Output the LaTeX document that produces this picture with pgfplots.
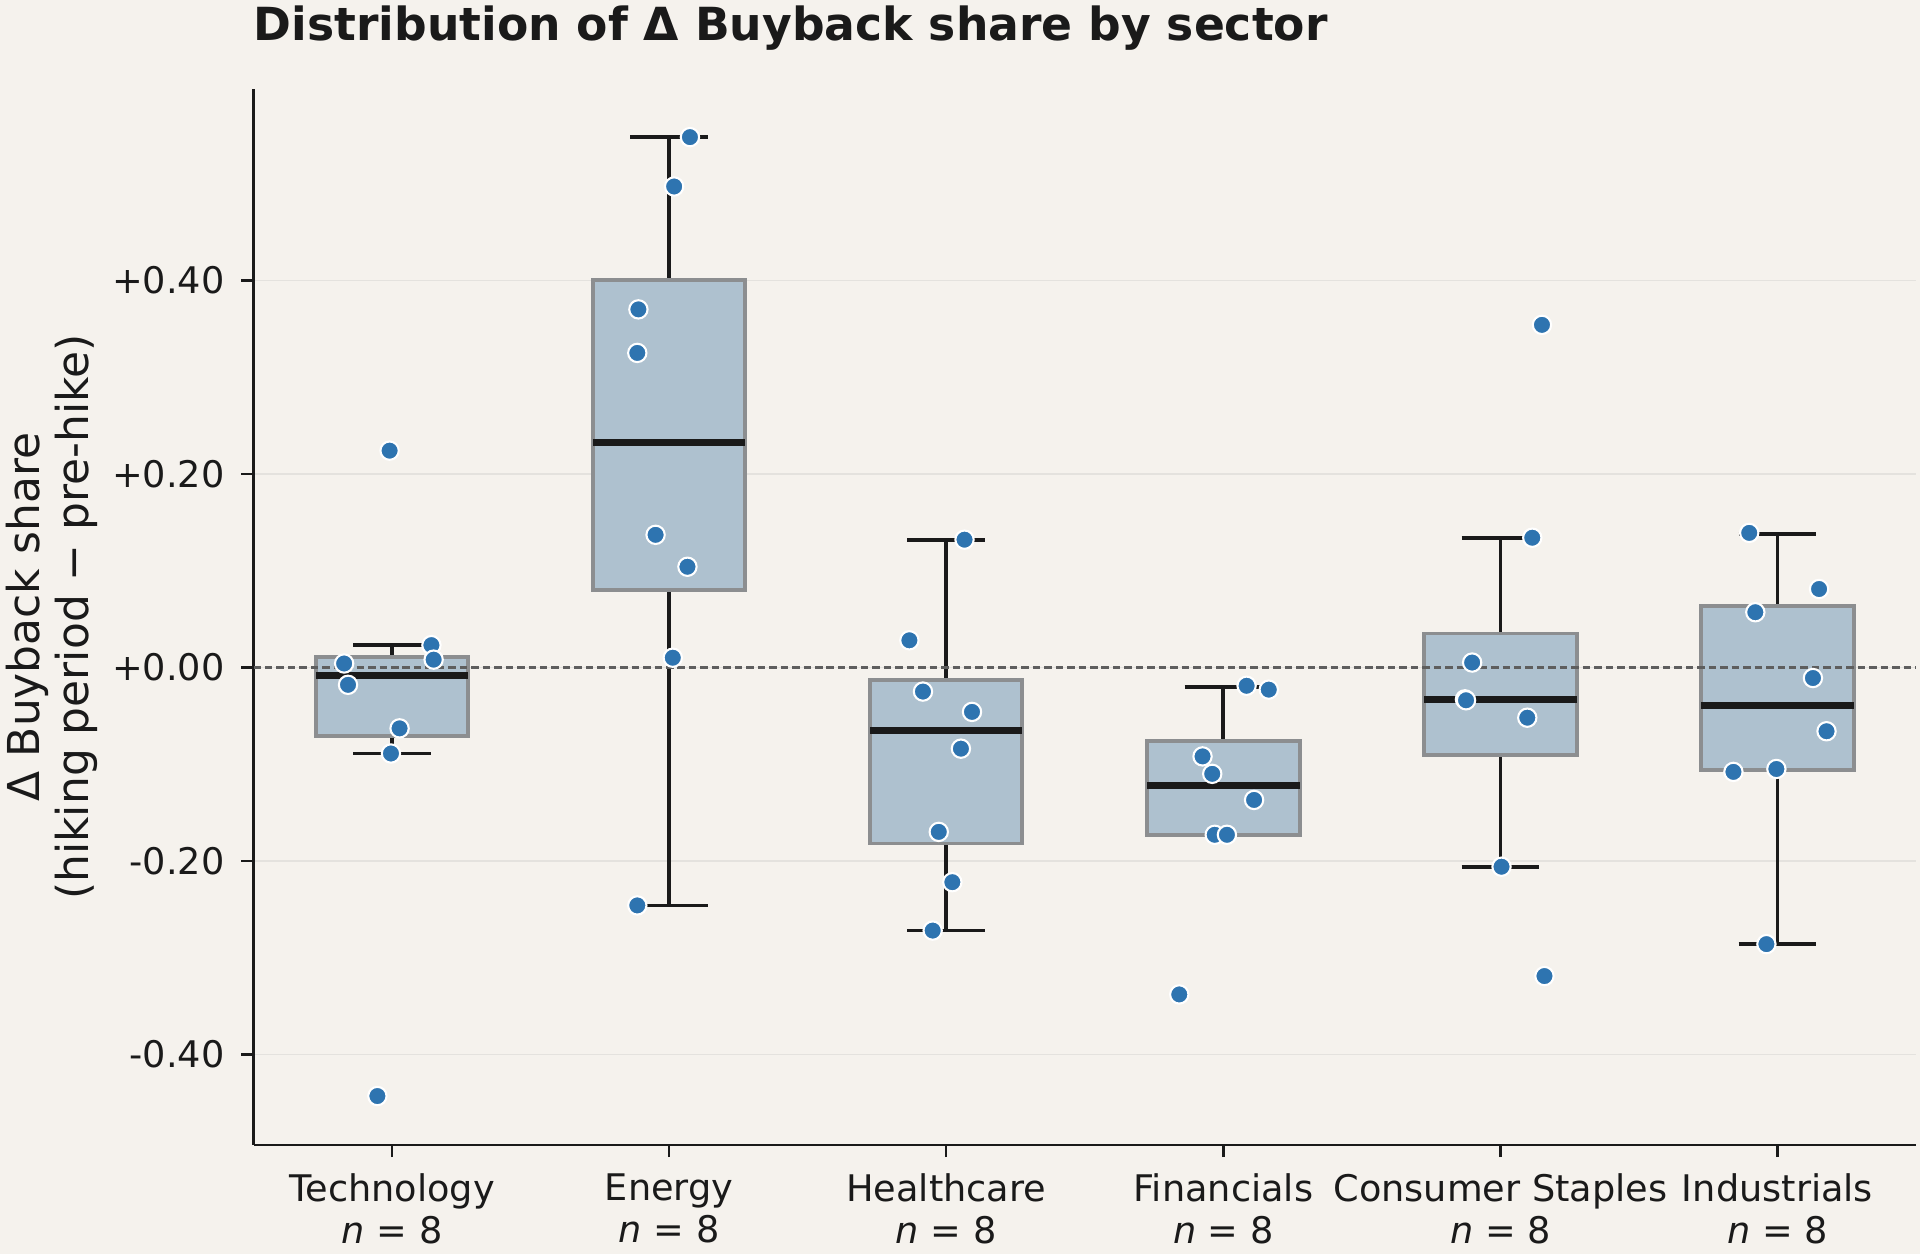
\documentclass[border=0pt]{standalone}
\usepackage{fontspec}
\setmainfont{DejaVu Sans}
\usepackage{pgfplots}
\pgfplotsset{compat=1.18}
\usepgfplotslibrary{statistics}
\definecolor{bg}{HTML}{F5F2ED}
\definecolor{boxfill}{HTML}{AEC1CF}
\definecolor{boxedge}{HTML}{8C8E90}
\definecolor{medc}{HTML}{1A1A1A}
\definecolor{ptc}{HTML}{2E74B0}
\definecolor{gridc}{HTML}{E4E2DE}
\definecolor{dashc}{HTML}{5E5E5E}
\begin{document}
\begin{tikzpicture}
\fill[bg] (-121.7pt,-52.3pt) rectangle (799.9pt,549.6pt);
\useasboundingbox (-121.7pt,-52.3pt) rectangle (799.9pt,549.6pt);
\begin{axis}[
  at={(0,0)}, anchor=south west,
  scale only axis, width=798pt, height=506.9pt,
  xmin=-0.5, xmax=5.5, ymin=-0.4936, ymax=0.5978,
  axis x line*=bottom, axis y line*=left,
  axis line style={line width=1.2pt, medc},
  tick align=outside, major tick length=5.8pt,
  tick style={line width=1.2pt, medc},
  ytick={-0.4,-0.2,0,0.2,0.4},
  yticklabels={-0.40,-0.20,+0.00,+0.20,+0.40},
  xtick={0,1,2,3,4,5},
  xticklabels={Technology\\\textit{n} = 8, Energy\\\textit{n} = 8, Healthcare\\\textit{n} = 8, Financials\\\textit{n} = 8, Consumer Staples\\\textit{n} = 8, Industrials\\\textit{n} = 8},
  yticklabel style={font=\fontsize{17.6}{19.5}\selectfont, text=medc, inner sep=0pt, anchor=east, xshift=-7.9pt},
  xticklabel style={font=\fontsize{17.6}{20.4}\selectfont, text=medc, inner sep=0pt, anchor=north, align=center, yshift=-7.6pt},
  ymajorgrids, grid style={color=gridc, line width=0.7pt},
  title={Distribution of Δ Buyback share by sector},
  every axis title/.style={at={(axis description cs:0,1)}, anchor=base west, inner sep=0pt, yshift=23.2pt, font=\bfseries\fontsize{21.9}{26}\selectfont, text=medc},
  ylabel={Δ Buyback share\\(hiking period − pre-hike)},
  every axis y label/.style={at={(axis description cs:-0.1212,0.5)}, rotate=90, anchor=center, align=center, inner sep=0pt, font=\fontsize{21.1}{23.5}\selectfont, text=medc},
  boxplot/draw direction=y,
  boxplot/every box/.style={draw=boxedge, fill=boxfill, line width=1.9pt},
  boxplot/every median/.style={draw=medc, line width=3.3pt},
  boxplot/every whisker/.style={draw=medc, line width=1.8pt},
  boxplot/box extend=0.55,
  boxplot/whisker extend=0.28,
]
% Technology
\addplot[boxplot prepared={draw position=0, lower whisker=-0.089, lower quartile=-0.071, median=-0.008, upper quartile=0.011, upper whisker=0.023}] coordinates {};
% Energy
\addplot[boxplot prepared={draw position=1, lower whisker=-0.246, lower quartile=0.080, median=0.232, upper quartile=0.400, upper whisker=0.548}] coordinates {};
% Healthcare
\addplot[boxplot prepared={draw position=2, lower whisker=-0.272, lower quartile=-0.182, median=-0.065, upper quartile=-0.013, upper whisker=0.132}] coordinates {};
% Financials
\addplot[boxplot prepared={draw position=3, lower whisker=-0.173, lower quartile=-0.173, median=-0.122, upper quartile=-0.076, upper whisker=-0.020}] coordinates {};
% Consumer Staples
\addplot[boxplot prepared={draw position=4, lower whisker=-0.206, lower quartile=-0.091, median=-0.033, upper quartile=0.035, upper whisker=0.134}] coordinates {};
% Industrials
\addplot[boxplot prepared={draw position=5, lower whisker=-0.286, lower quartile=-0.106, median=-0.039, upper quartile=0.063, upper whisker=0.138}] coordinates {};
% zero line
\addplot[dashc, line width=1.1pt, dash pattern=on 3.6pt off 1.9pt] coordinates {(-0.5,0) (5.5,0)};
% points
\addplot[only marks, mark=*, mark size=4.4pt, mark options={fill=ptc, draw=white, line width=1pt}] coordinates {
(-0.009,0.224) (0.142,0.023) (0.150,0.008) (-0.173,0.004) (-0.159,-0.018) (0.027,-0.063) (-0.004,-0.089) (-0.053,-0.443)
(1.075,0.548) (1.018,0.497) (0.889,0.370) (0.885,0.325) (0.951,0.137) (1.066,0.104) (1.013,0.010) (0.885,-0.246)
(2.066,0.132) (1.867,0.028) (1.916,-0.025) (2.093,-0.046) (2.053,-0.084) (1.973,-0.170) (2.022,-0.222) (1.951,-0.272)
(3.084,-0.019) (3.164,-0.023) (2.925,-0.092) (2.960,-0.110) (3.111,-0.137) (2.969,-0.173) (3.013,-0.173) (2.841,-0.338)
(4.150,0.354) (4.115,0.134) (3.898,0.005) (3.872,-0.033) (3.876,-0.034) (4.097,-0.052) (4.004,-0.206) (4.159,-0.319)
(4.898,0.139) (5.150,0.081) (4.920,0.057) (5.128,-0.011) (5.177,-0.066) (4.841,-0.108) (4.996,-0.105) (4.960,-0.286)
};
\end{axis}
\end{tikzpicture}
\end{document}
